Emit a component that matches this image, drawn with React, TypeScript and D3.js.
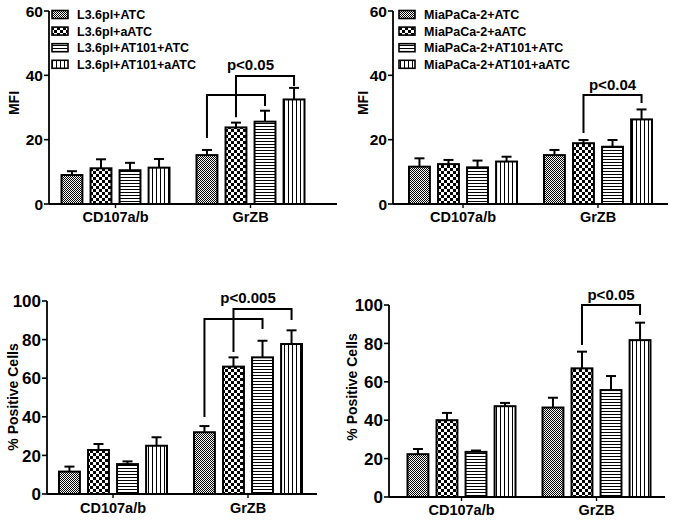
import React from "react";
import * as d3 from "d3";

const categories = ["CD107a/b", "GrZB"];
const seriesIds = ["ATC", "aATC", "AT101ATC", "AT101aATC"];
const legendL36 = ["L3.6pl+ATC", "L3.6pl+aATC", "L3.6pl+AT101+ATC", "L3.6pl+AT101+aATC"];
const legendMia = ["MiaPaCa-2+ATC", "MiaPaCa-2+aATC", "MiaPaCa-2+AT101+ATC", "MiaPaCa-2+AT101+aATC"];

const mfiTicks = [0, 20, 40, 60];
const pctTicks = [0, 20, 40, 60, 80, 100];

const mfiL36Mean = [[9.0, 11.1, 10.5, 11.3], [15.2, 23.8, 25.6, 32.5]];
const mfiL36Err = [[1.2, 2.8, 2.3, 2.7], [1.6, 1.5, 3.4, 3.6]];
const mfiMiaMean = [[11.6, 12.4, 11.4, 13.2], [15.2, 18.9, 17.8, 26.3]];
const mfiMiaErr = [[2.6, 1.3, 2.1, 1.5], [1.6, 1.0, 2.1, 3.1]];
const pctL36Mean = [[11.6, 22.8, 15.5, 25.0], [32.0, 66.0, 70.8, 77.7]];
const pctL36Err = [[2.6, 3.1, 1.4, 4.4], [3.2, 4.8, 8.6, 7.1]];
const pctMiaMean = [[22.3, 40.0, 23.5, 47.3], [46.6, 67.0, 55.7, 81.7]];
const pctMiaErr = [[2.7, 3.8, 0.7, 1.7], [5.1, 8.7, 7.3, 9.1]];

const bracketsMfiL36 = [
  { cat: 1, from: 0, to: 2, top: 33.9, leftEnd: 20.5, rightEnd: 30.5 },
  { cat: 1, from: 1, to: 3, top: 39.8, leftEnd: 27.0, rightEnd: 36.7 },
];
const bracketsMfiMia = [{ cat: 1, from: 1, to: 3, top: 33.9, leftEnd: 22.1, rightEnd: 31.4 }];
const bracketsPctL36 = [
  { cat: 1, from: 0, to: 2, top: 90.7, leftEnd: 39.9, rightEnd: 85.5 },
  { cat: 1, from: 1, to: 3, top: 95.9, leftEnd: 73.6, rightEnd: 90.2 },
];
const bracketsPctMia = [{ cat: 1, from: 1, to: 3, top: 100.0, leftEnd: 79.2, rightEnd: 94.8 }];

const pLabelMfiL36 = { text: "p<0.05", value: 41.7 };
const pLabelMfiMia = { text: "p<0.04", value: 35.4 };
const pLabelPctL36 = { text: "p<0.005", value: 99.0 };
const pLabelPctMia = { text: "p<0.05", value: 102.6 };

const FONT = "'Liberation Sans', Arial, Helvetica, sans-serif";

type PanelProps = {
  axisX: number; axisEnd: number; groupLeft: number; y0: number; yTop: number; yMax: number;
  ticks: number[]; tickFont: number; means: number[][]; errs: number[][]; brackets: any[]; pLabel: { text: string; value: number };
  yLabel: string; yLabelX: number; yLabelY: number; catY: number; legend?: string[]; legendX?: number;
};

function Panel(p: PanelProps) {
  const y = d3.scaleLinear().domain([0, p.yMax]).range([p.y0, p.yTop]);
  const gx = d3.scalePoint<string>().domain(categories).range([p.groupLeft, p.groupLeft + 270]).padding(0.5);
  const bx = d3.scaleBand<number>().domain([0, 1, 2, 3]).range([-54, 54]).paddingInner(0.28);
  const bw = bx.bandwidth();
  const barCenter = (c: number, s: number) => (gx(categories[c]) as number) + (bx(s) as number) + bw / 2;
  const bold = { fontFamily: FONT, fontWeight: 700 } as const;
  return (
    <g>
      {categories.map((cat, ci) =>
        seriesIds.map((sid, si) => {
          const m = p.means[ci][si];
          const e = p.errs[ci][si];
          const cx = barCenter(ci, si);
          return (
            <g key={cat + sid}>
              <line x1={cx} x2={cx} y1={y(m)} y2={y(m + e)} stroke="#000" strokeWidth={2} />
              <line x1={cx - 5} x2={cx + 5} y1={y(m + e)} y2={y(m + e)} stroke="#000" strokeWidth={2} />
              <rect x={cx - bw / 2} y={y(m)} width={bw} height={y(0) - y(m)} fill={`url(#pat-${sid})`} stroke="#000" strokeWidth={2} />
            </g>
          );
        })
      )}
      <line x1={p.axisX} x2={p.axisX} y1={y(0)} y2={y(p.yMax)} stroke="#000" strokeWidth={1.8} />
      <line x1={p.axisX} x2={p.axisEnd} y1={y(0)} y2={y(0)} stroke="#000" strokeWidth={1.8} />
      {p.ticks.map((t) => (
        <g key={t}>
          <line x1={p.axisX - 5} x2={p.axisX} y1={y(t)} y2={y(t)} stroke="#000" strokeWidth={1.6} />
          <text x={p.axisX - 6} y={y(t)} dy="0.36em" textAnchor="end" fontSize={p.tickFont} {...bold}>{t}</text>
        </g>
      ))}
      {categories.map((cat) => (
        <g key={cat}>
          <line x1={gx(cat)} x2={gx(cat)} y1={y(0)} y2={y(0) + 4} stroke="#000" strokeWidth={1.4} />
          <text x={gx(cat)} y={p.catY} textAnchor="middle" fontSize={14.5} {...bold}>{cat}</text>
        </g>
      ))}
      <text transform={`translate(${p.yLabelX},${p.yLabelY}) rotate(-90)`} textAnchor="middle" dy="0.36em" fontSize={14} {...bold}>{p.yLabel}</text>
      {p.brackets.map((b, i) => {
        const x1 = barCenter(b.cat, b.from);
        const x2 = barCenter(b.cat, b.to);
        const path = d3.path();
        path.moveTo(x1, y(b.leftEnd));
        path.lineTo(x1, y(b.top));
        path.lineTo(x2, y(b.top));
        path.lineTo(x2, y(b.rightEnd));
        return <path key={i} d={path.toString()} fill="none" stroke="#000" strokeWidth={2} />;
      })}
      {(() => {
        const xs = p.brackets.flatMap((b) => [barCenter(b.cat, b.from), barCenter(b.cat, b.to)]);
        const cx = ((d3.min(xs) as number) + (d3.max(xs) as number)) / 2;
        return <text x={cx} y={y(p.pLabel.value)} textAnchor="middle" fontSize={15} {...bold}>{p.pLabel.text}</text>;
      })()}
      {p.legend && p.legend.map((name, i) => {
        const ly = 14.5 + i * 16.6;
        return (
          <g key={name}>
            <rect x={p.legendX} y={ly - 4} width={16} height={8} fill={`url(#pat-${seriesIds[i]})`} stroke="#000" strokeWidth={1.6} />
            <text x={(p.legendX as number) + 25} y={ly} dy="0.36em" fontSize={12.5} {...bold}>{name}</text>
          </g>
        );
      })}
    </g>
  );
}

export default function App() {
  return (
    <svg width={673} height={521} style={{ position: "absolute", left: 0, top: 0, display: "block", background: "#fff" }}>
      <defs>
        <pattern id="pat-ATC" patternUnits="userSpaceOnUse" width={2} height={2}>
          <rect width={2} height={2} fill="#fff" />
          <rect x={0} y={0} width={1} height={1} fill="#000" />
          <rect x={1} y={1} width={1} height={1} fill="#000" />
        </pattern>
        <pattern id="pat-aATC" patternUnits="userSpaceOnUse" width={6} height={6}>
          <rect width={6} height={6} fill="#fff" />
          <rect x={0} y={0} width={3} height={3} fill="#000" />
          <rect x={3} y={3} width={3} height={3} fill="#000" />
        </pattern>
        <pattern id="pat-AT101ATC" patternUnits="userSpaceOnUse" width={4} height={3}>
          <rect width={4} height={3} fill="#fff" />
          <rect x={0} y={0} width={4} height={1} fill="#000" />
        </pattern>
        <pattern id="pat-AT101aATC" patternUnits="userSpaceOnUse" width={4} height={4}>
          <rect width={4} height={4} fill="#fff" />
          <rect x={0} y={0} width={1} height={4} fill="#000" />
        </pattern>
      </defs>
      <Panel axisX={49} axisEnd={337} groupLeft={48} y0={204} yTop={11} yMax={60} ticks={mfiTicks} tickFont={15.5}
        means={mfiL36Mean} errs={mfiL36Err} brackets={bracketsMfiL36} pLabel={pLabelMfiL36}
        yLabel="MFI" yLabelX={14} yLabelY={103} catY={222} legend={legendL36} legendX={52} />
      <Panel axisX={393} axisEnd={668} groupLeft={395.5} y0={204} yTop={11} yMax={60} ticks={mfiTicks} tickFont={15.5}
        means={mfiMiaMean} errs={mfiMiaErr} brackets={bracketsMfiMia} pLabel={pLabelMfiMia}
        yLabel="MFI" yLabelX={363} yLabelY={103} catY={222} legend={legendMia} legendX={399} />
      <Panel axisX={47} axisEnd={317} groupLeft={45.5} y0={494} yTop={301} yMax={100} ticks={pctTicks} tickFont={17}
        means={pctL36Mean} errs={pctL36Err} brackets={bracketsPctL36} pLabel={pLabelPctL36}
        yLabel="% Positive Cells" yLabelX={13} yLabelY={397} catY={513} />
      <Panel axisX={389} axisEnd={665} groupLeft={394} y0={497} yTop={305} yMax={100} ticks={pctTicks} tickFont={17}
        means={pctMiaMean} errs={pctMiaErr} brackets={bracketsPctMia} pLabel={pLabelPctMia}
        yLabel="% Positive Cells" yLabelX={352} yLabelY={387} catY={515} />
    </svg>
  );
}
